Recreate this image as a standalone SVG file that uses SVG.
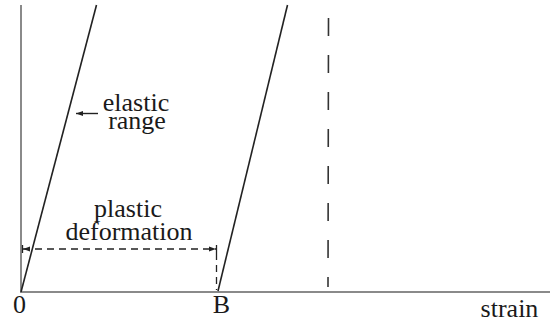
<svg xmlns="http://www.w3.org/2000/svg" width="550" height="324" viewBox="0 0 550 324">
<style>
.axis{stroke:#8a8a8a;stroke-width:2;fill:none}
.curve{stroke:#222;stroke-width:1.6;fill:none}
.dash{stroke:#222;stroke-width:1.3;fill:none;stroke-dasharray:7 5}
.vdash{stroke:#333;stroke-width:1.6;fill:none;stroke-dasharray:18 19}
.lbl{font-family:'Liberation Serif','DejaVu Serif','Times New Roman',serif;font-size:26px;fill:#1a1a1a;text-anchor:middle}
</style>
<defs>
<marker id="ah" viewBox="0 0 10 10" refX="10" refY="5" markerWidth="7" markerHeight="7" orient="auto-start-reverse" markerUnits="userSpaceOnUse">
<path d="M0,1.5 L10,5 L0,8.5 z" fill="#222"/>
</marker>
</defs>
<g id="axes">
<line class="axis" x1="21" y1="5" x2="21" y2="292"/>
<line class="axis" x1="20" y1="292" x2="550" y2="292"/>
</g>
<g id="connectors">
<line class="curve" x1="21" y1="292" x2="96.5" y2="5"/>
<line class="curve" x1="218" y1="291" x2="287.5" y2="5"/>
<line class="vdash" x1="328.5" y1="18" x2="328" y2="287"/>
<line class="dash" x1="23" y1="249" x2="216" y2="249" marker-start="url(#ah)" marker-end="url(#ah)"/>
<line stroke="#222" stroke-width="1.3" x1="22.5" y1="245" x2="22.5" y2="253"/>
<line stroke="#222" stroke-width="1.3" x1="216.5" y1="245" x2="216.5" y2="253"/>
<line class="dash" x1="216.5" y1="253" x2="216.5" y2="290" stroke-dasharray="8 5"/>
<line stroke="#222" stroke-width="1.4" x1="98" y1="113.5" x2="76" y2="113.5" marker-end="url(#ah)"/>
</g>
<g id="elastic-label">
<text class="lbl"><tspan x="136" y="111">elastic</tspan><tspan x="137" y="129">range</tspan></text>
</g>
<g id="plastic-label">
<text class="lbl"><tspan x="128" y="217">plastic</tspan><tspan x="129" y="240">deformation</tspan></text>
</g>
<g id="ticks">
<text class="lbl" x="19.5" y="313">0</text>
<text class="lbl" x="221.5" y="313">B</text>
<text class="lbl" x="509.5" y="317">strain</text>
</g>
</svg>
